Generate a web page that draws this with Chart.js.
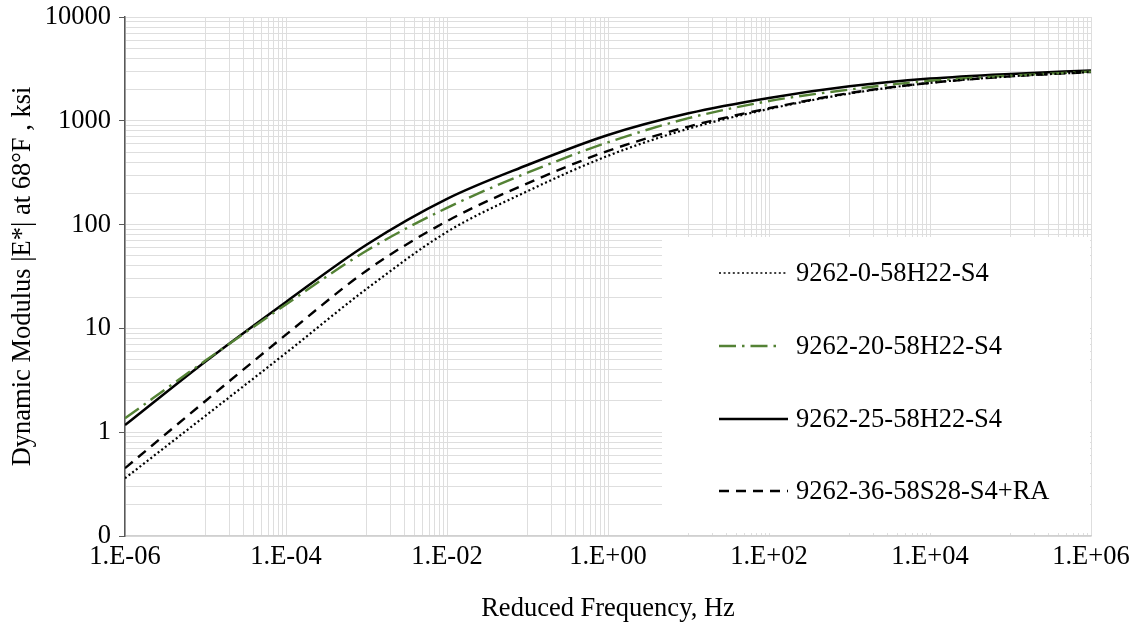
<!DOCTYPE html>
<html>
<head>
<meta charset="utf-8">
<script src="https://cdn.jsdelivr.net/npm/chart.js@4.4.1/dist/chart.umd.min.js"></script>
<style>
  body { margin: 0; background: #fff; }
</style>
</head>
<body>
<canvas id="myChart" width="1136" height="637"></canvas>
<script>
// reduced frequency, Hz
const frequencies = [1e-6, 1e-5, 1e-4, 1e-3, 1e-2, 1e-1, 1e0, 1e1, 1e2, 1e3, 1e4, 1e5, 1e6];

const seriesNames = ['9262-0-58H22-S4', '9262-20-58H22-S4', '9262-25-58H22-S4', '9262-36-58S28-S4+RA'];

// |E*| in ksi
const mix0 = [0.36, 1.44, 5.8, 24, 85, 210, 460, 840, 1300, 1830, 2320, 2680, 2950];
const mix20 = [1.36, 4.9, 17, 56, 145, 316, 620, 1060, 1550, 2000, 2430, 2720, 2980];
const mix25 = [1.17, 4.8, 18, 64, 177, 375, 730, 1180, 1660, 2150, 2550, 2830, 3050];
const mix36 = [0.45, 2.0, 8.7, 36, 108, 250, 513, 880, 1320, 1850, 2320, 2680, 2950];

const yTickValues = [0.1, 1, 10, 100, 1000, 10000];
const yTickLabels = ['0', '1', '10', '100', '1000', '10000'];
const xTickValues = [1e-6, 1e-4, 1e-2, 1e0, 1e2, 1e4, 1e6];
const xTickLabels = ['1.E-06', '1.E-04', '1.E-02', '1.E+00', '1.E+02', '1.E+04', '1.E+06'];

const FONT = "'Liberation Serif', 'Times New Roman', serif";
const FSIZE = 26.5;
const GRID = '#dedede';

function toPoints(values) {
    return values.map((v, i) => ({ x: frequencies[i], y: v }));
}

// y: 1..9 in every decade ; x: Excel style, minor lines only in the odd decade
function yGridValues() {
    const out = [];
    for (let e = -1; e < 4; e++) {
        for (let k = 1; k < 10; k++) out.push(k * Math.pow(10, e));
    }
    out.push(10000);
    return out;
}
function xGridValues() {
    const out = [];
    for (let e = -6; e < 6; e += 2) {
        out.push(Math.pow(10, e));
        for (let k = 1; k < 10; k++) out.push(k * Math.pow(10, e + 1));
    }
    out.push(1e6);
    return out;
}

function isMajor(list, v) {
    return list.some(t => Math.abs(Math.log10(t) - Math.log10(v)) < 1e-6);
}

const styles = [
    { color: '#000000', width: 2.2, dash: [2, 2.6] },
    { color: '#548235', width: 2.4, dash: [17, 6, 2.5, 6] },
    { color: '#000000', width: 2.5, dash: [] },
    { color: '#000000', width: 2.4, dash: [10, 7] }
];
const seriesData = [mix0, mix20, mix25, mix36];

const legendBox = {
    id: 'legendBox',
    afterDatasetsDraw(chart) {
        const ctx = chart.ctx;
        ctx.save();
        ctx.fillStyle = '#ffffff';
        ctx.fillRect(662, 237, chart.chartArea.right - 662 - 1, 296);
        const rows = [273, 346, 419, 491];
        ctx.font = FSIZE + 'px ' + FONT;
        ctx.textBaseline = 'middle';
        seriesNames.forEach((name, i) => {
            const s = styles[i];
            ctx.strokeStyle = s.color;
            ctx.lineWidth = i === 0 ? 1.6 : s.width;
            ctx.setLineDash(s.dash);
            ctx.beginPath();
            ctx.moveTo(719, rows[i]);
            ctx.lineTo(i === 1 ? 782 : 788, rows[i]);
            ctx.stroke();
            ctx.setLineDash([]);
            ctx.fillStyle = '#000000';
            ctx.fillText(name, 796, rows[i] + 1);
        });
        ctx.restore();
    }
};

new Chart(document.getElementById('myChart'), {
    type: 'line',
    data: {
        datasets: seriesNames.map((name, i) => ({
            label: name,
            data: toPoints(seriesData[i]),
            borderColor: styles[i].color,
            borderWidth: styles[i].width,
            borderDash: styles[i].dash,
            pointRadius: 0,
            cubicInterpolationMode: 'monotone',
            fill: false
        }))
    },
    options: {
        responsive: false,
        animation: false,
        layout: { padding: { top: 17, right: 45, left: 0, bottom: 0 } },
        plugins: { legend: { display: false }, tooltip: { enabled: false } },
        scales: {
            x: {
                type: 'logarithmic',
                min: 1e-6,
                max: 1e6,
                afterBuildTicks: scale => { scale.ticks = xGridValues().map(v => ({ value: v })); },
                afterFit: scale => { scale.height = 101; },
                border: { color: '#d0d0d0', width: 1.5 },
                grid: { color: GRID, lineWidth: 1, drawTicks: false },
                ticks: {
                    autoSkip: false,
                    maxRotation: 0,
                    padding: 5,
                    color: '#000',
                    font: { family: FONT, size: FSIZE },
                    callback: value => {
                        const i = xTickValues.findIndex(t => isMajor([t], value));
                        return i >= 0 ? xTickLabels[i] : '';
                    }
                },
                title: {
                    display: true,
                    text: 'Reduced Frequency, Hz',
                    color: '#000',
                    font: { family: FONT, size: FSIZE },
                    padding: { top: 0, bottom: 12 }
                }
            },
            y: {
                type: 'logarithmic',
                min: 0.1,
                max: 10000,
                afterBuildTicks: scale => { scale.ticks = yGridValues().map(v => ({ value: v })); },
                afterFit: scale => {
                    scale.width = 125;
                    scale.paddingTop = 0;
                    scale.paddingBottom = 0;
                },
                border: { color: '#595959', width: 1.5 },
                grid: {
                    color: GRID,
                    lineWidth: 1,
                    drawTicks: true,
                    tickLength: 6,
                    tickColor: c => (c.tick && isMajor(yTickValues, c.tick.value)) ? '#595959' : 'rgba(0,0,0,0)'
                },
                ticks: {
                    autoSkip: false,
                    padding: 8,
                    color: '#000',
                    font: { family: FONT, size: FSIZE },
                    callback: value => {
                        const i = yTickValues.findIndex(t => isMajor([t], value));
                        return i >= 0 ? yTickLabels[i] : '';
                    }
                },
                title: {
                    display: true,
                    text: 'Dynamic Modulus |E*| at 68°F , ksi',
                    color: '#000',
                    font: { family: FONT, size: FSIZE },
                    padding: { top: 7, bottom: 0 }
                }
            }
        }
    },
    plugins: [legendBox]
});
</script>
</body>
</html>
